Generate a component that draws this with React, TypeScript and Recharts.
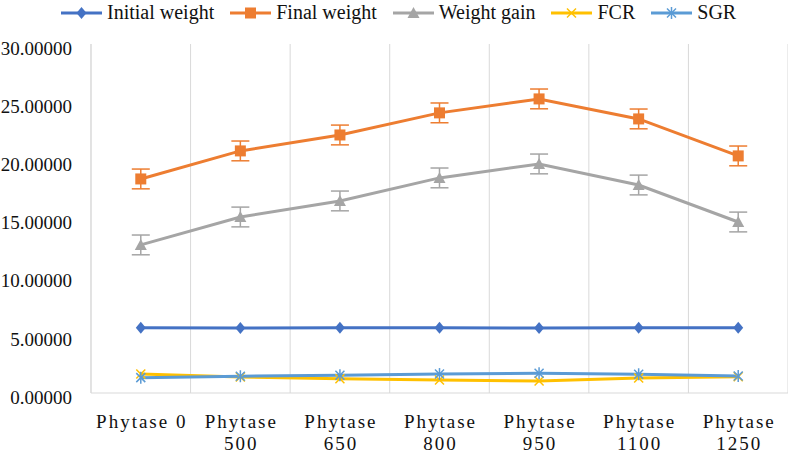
import React from 'react';
import { LineChart, Line, XAxis, YAxis, CartesianGrid, ErrorBar } from 'recharts';

const categories = ['Phytase 0', 'Phytase 500', 'Phytase 650', 'Phytase 800', 'Phytase 950', 'Phytase 1100', 'Phytase 1250'];
const xTickLines = [['Phytase 0'], ['Phytase', '500'], ['Phytase', '650'], ['Phytase', '800'], ['Phytase', '950'], ['Phytase', '1100'], ['Phytase', '1250']];

const initialWeight = [5.61, 5.59, 5.61, 5.60, 5.59, 5.60, 5.60];
const finalWeight = [18.40, 20.81, 22.18, 24.08, 25.28, 23.56, 20.38];
const finalWeightErr = [0.85, 0.85, 0.85, 0.85, 0.85, 0.85, 0.85];
const weightGain = [12.73, 15.13, 16.51, 18.49, 19.69, 17.88, 14.70];
const weightGainErr = [0.85, 0.85, 0.85, 0.85, 0.85, 0.85, 0.85];
const fcr = [1.63, 1.38, 1.23, 1.12, 1.03, 1.29, 1.40];
const sgr = [1.32, 1.44, 1.52, 1.63, 1.69, 1.61, 1.46];

const yTicks = [0, 5, 10, 15, 20, 25, 30];
const xTicks = [0, 1, 2, 3, 4, 5, 6];
const gridTicks = [0.5, 1.5, 2.5, 3.5, 4.5, 5.5, 6.5];

const data = categories.map((name, i) => ({
  idx: i,
  name,
  initial: initialWeight[i],
  final: finalWeight[i],
  finalErr: finalWeightErr[i],
  gain: weightGain[i],
  gainErr: weightGainErr[i],
  fcr: fcr[i],
  sgr: sgr[i],
}));

const C_INIT = '#4472C4';
const C_FINAL = '#ED7D31';
const C_GAIN = '#A5A5A5';
const C_FCR = '#FFC000';
const C_SGR = '#5B9BD5';
const FONT = '"Liberation Serif", "Times New Roman", serif';

type MarkerKind = 'diamond' | 'square' | 'triangle' | 'x' | 'star';

const Marker = ({ kind, cx, cy, color }: { kind: MarkerKind; cx: number; cy: number; color: string }) => {
  if (kind === 'diamond')
    return <polygon points={`${cx},${cy - 6} ${cx + 5},${cy} ${cx},${cy + 6} ${cx - 5},${cy}`} fill={color} />;
  if (kind === 'square') return <rect x={cx - 5.5} y={cy - 5.5} width={11} height={11} fill={color} />;
  if (kind === 'triangle')
    return <polygon points={`${cx},${cy - 6} ${cx + 6},${cy + 5} ${cx - 6},${cy + 5}`} fill={color} />;
  const cross = (
    <>
      <line x1={cx - 4.5} y1={cy - 4.5} x2={cx + 4.5} y2={cy + 4.5} stroke={color} strokeWidth={1.5} />
      <line x1={cx - 4.5} y1={cy + 4.5} x2={cx + 4.5} y2={cy - 4.5} stroke={color} strokeWidth={1.5} />
    </>
  );
  if (kind === 'x') return cross;
  return (
    <>
      {cross}
      <line x1={cx} y1={cy - 6} x2={cx} y2={cy + 6} stroke={color} strokeWidth={1.5} />
    </>
  );
};

const dotOf = (kind: MarkerKind, color: string) => (props: any) => (
  <g key={`${kind}-${props.index}`}>
    <Marker kind={kind} cx={props.cx} cy={props.cy} color={color} />
  </g>
);

const XTick = ({ x, y, payload }: any) => {
  const lines = xTickLines[payload.value] || [];
  return (
    <text x={x} y={y} textAnchor="middle" fill="#111" fontFamily={FONT} fontSize={19} style={{ letterSpacing: 2 }}>
      {lines.map((l, i) => (
        <tspan key={i} x={x + 1} y={y + 35 + i * 22}>
          {l}
        </tspan>
      ))}
    </text>
  );
};

const YTick = ({ x, y, payload }: any) => (
  <text x={x} y={y + 4} dy="0.355em" textAnchor="end" fill="#111" fontFamily={FONT} fontSize={19}>
    {Number(payload.value).toFixed(5)}
  </text>
);

const legendItems: { label: string; color: string; kind: MarkerKind }[] = [
  { label: 'Initial weight', color: C_INIT, kind: 'diamond' },
  { label: 'Final weight', color: C_FINAL, kind: 'square' },
  { label: 'Weight gain', color: C_GAIN, kind: 'triangle' },
  { label: 'FCR', color: C_FCR, kind: 'x' },
  { label: 'SGR', color: C_SGR, kind: 'star' },
];

export default function App() {
  return (
    <div style={{ position: 'absolute', left: 0, top: 0, width: 788, height: 453, background: '#fff' }}>
      <div
        style={{
          position: 'absolute',
          left: 61,
          top: 0,
          height: 25,
          display: 'flex',
          alignItems: 'center',
          fontFamily: FONT,
          fontSize: 20,
          color: '#111',
          whiteSpace: 'nowrap',
        }}
      >
        {legendItems.map((it) => (
          <div key={it.label} style={{ display: 'flex', alignItems: 'center', marginRight: 16 }}>
            <svg width={41} height={14}>
              <line x1={0} y1={7} x2={41} y2={7} stroke={it.color} strokeWidth={3} />
              <Marker kind={it.kind} cx={20.5} cy={7} color={it.color} />
            </svg>
            <span style={{ marginLeft: 5 }}>{it.label}</span>
          </div>
        ))}
      </div>
      <LineChart width={788} height={453} data={data} margin={{ top: 44, right: 0, left: 0, bottom: 0 }}>
        <XAxis
          dataKey="idx"
          type="number"
          domain={[-0.5, 6.5]}
          ticks={xTicks}
          interval={0}
          height={60}
          axisLine={{ stroke: '#d9d9d9', strokeWidth: 1 }}
          tickLine={false}
          tickSize={0}
          tickMargin={0}
          tick={<XTick />}
        />
        <XAxis xAxisId="grid" dataKey="idx" type="number" domain={[-0.5, 6.5]} ticks={gridTicks} hide />
        <YAxis
          type="number"
          domain={[0, 30]}
          ticks={yTicks}
          width={91}
          axisLine={{ stroke: '#d9d9d9', strokeWidth: 1 }}
          tickLine={false}
          tickSize={0}
          tickMargin={19}
          tick={<YTick />}
        />
        <CartesianGrid xAxisId="grid" horizontal={false} stroke="#d9d9d9" strokeWidth={1} />
        <Line dataKey="initial" stroke={C_INIT} strokeWidth={3} dot={dotOf('diamond', C_INIT)} activeDot={false} isAnimationActive={false} />
        <Line dataKey="final" stroke={C_FINAL} strokeWidth={3} dot={dotOf('square', C_FINAL)} activeDot={false} isAnimationActive={false}>
          <ErrorBar dataKey="finalErr" direction="y" width={9} stroke={C_FINAL} strokeWidth={1.5} />
        </Line>
        <Line dataKey="gain" stroke={C_GAIN} strokeWidth={3} dot={dotOf('triangle', C_GAIN)} activeDot={false} isAnimationActive={false}>
          <ErrorBar dataKey="gainErr" direction="y" width={9} stroke={C_GAIN} strokeWidth={1.5} />
        </Line>
        <Line dataKey="fcr" stroke={C_FCR} strokeWidth={3} dot={dotOf('x', C_FCR)} activeDot={false} isAnimationActive={false} />
        <Line dataKey="sgr" stroke={C_SGR} strokeWidth={3} dot={dotOf('star', C_SGR)} activeDot={false} isAnimationActive={false} />
      </LineChart>
    </div>
  );
}
